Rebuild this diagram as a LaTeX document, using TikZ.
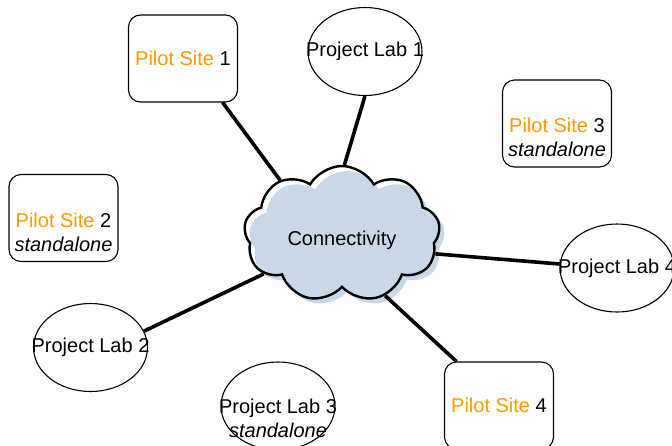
\documentclass[tikz,border=0pt]{standalone}
\usepackage{fontspec}
\setmainfont{Liberation Sans}
\usetikzlibrary{shapes.geometric, shapes.symbols, positioning}

\definecolor{siteorange}{RGB}{255,153,0}
\definecolor{cloudblue}{RGB}{201,216,233}

\begin{document}
\begin{tikzpicture}[
      x=1pt, y=-1pt,
      font=\fontsize{20}{24}\selectfont,
      site/.style={
          rectangle,
          draw,
          rounded corners=12pt,
          line width=1.1pt,
          minimum width=109pt,
          minimum height=87pt,
          inner sep=0pt,
          align=center
        },
      lab/.style={
          ellipse,
          draw,
          line width=1.1pt,
          minimum width=114pt,
          minimum height=88pt,
          inner sep=0pt
        },
      net/.style={
          cloud,
          cloud puffs=9,
          cloud puff arc=120,
          minimum width=196pt,
          minimum height=136pt,
          inner sep=0pt
        },
      link/.style={
          line width=3.6pt
        }
    ]
    \useasboundingbox (0,0) rectangle (672,445);

    % Cloud in the middle
    \node[net, fill=cloudblue] (shadow) at (347,239) {};
    \node[net, draw, line width=2.4pt] (cloud) at (342,234) {};
    \node (conn) at (342,240) {Connectivity};

    % Pilot sites
    \node[site] (ps1) at (183,58.5) {\textcolor{siteorange}{Pilot Site} 1};
    \node[site, label={[yshift=-14pt, align=center]center:{\textcolor{siteorange}{Pilot Site} 2\\ \textit{standalone}}}] (ps2) at (63.5,218) {};
    \node[site, label={[yshift=-14pt, align=center]center:{\textcolor{siteorange}{Pilot Site} 3\\ \textit{standalone}}}] (ps3) at (557,123.5) {};
    \node[site] (ps4) at (499,405.5) {\textcolor{siteorange}{Pilot Site} 4};

    % Project labs
    \node[lab, label={center:Project Lab 1}] (pl1) at (365,51.5) {};
    \node[lab, label={center:Project Lab 2}] (pl2) at (90.5,347.5) {};
    \node[lab, label={[yshift=-12pt, align=center]center:{Project Lab 3\\ \textit{standalone}}}] (pl3) at (278,406) {};
    \node[lab, label={center:Project Lab 4}] (pl4) at (617,268) {};

    % Links to the cloud
    \draw[link] (ps1.-48) -- (cloud.139);
    \draw[link] (pl1.-90) -- (cloud.88);
    \draw[link] (pl4.176) -- (cloud.-12);
    \draw[link] (ps4.134) -- (cloud.-55);
    \draw[link] (pl2.17) -- (cloud.-153);
  \end{tikzpicture}
\end{document}
